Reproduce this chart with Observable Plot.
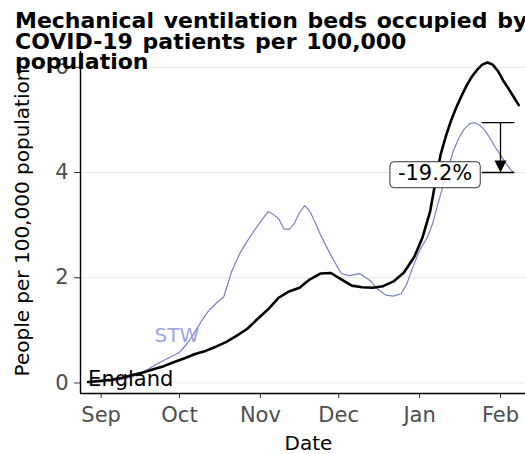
<!DOCTYPE html>
<html><head><meta charset="utf-8">
<script src="https://cdn.jsdelivr.net/npm/d3@7"></script>
<script src="https://cdn.jsdelivr.net/npm/@observablehq/plot@0.6"></script>
<style>
body{margin:0;background:#fff;}
#wrap{position:relative;width:525px;height:454px;overflow:hidden;font-family:"DejaVu Sans",sans-serif;background:#fff;}
#chart{position:absolute;left:0;top:0;width:536px;height:454px;}
#chart svg{max-width:none !important;}
#title{position:absolute;left:15px;top:11px;font-weight:bold;font-size:22px;line-height:20.5px;word-spacing:2px;white-space:nowrap;color:#000;}
#chart g[aria-label$="tick label"]{fill:#4d4d4d;font-size:21px;}
#chart g[aria-label$="axis label"]{fill:#000;font-size:20px;}
</style></head><body>
<div id="wrap"><div id="chart"></div><div id="title">Mechanical ventilation beds occupied by<br>COVID-19 patients per 100,000<br>population</div></div>
<script>
// ---- data ----
const englandDates = ["2020-08-27","2020-09-01","2020-09-05","2020-09-09","2020-09-13","2020-09-17","2020-09-21","2020-09-25","2020-09-29","2020-10-03","2020-10-07","2020-10-11","2020-10-15","2020-10-19","2020-10-23","2020-10-27","2020-10-31","2020-11-04","2020-11-08","2020-11-12","2020-11-16","2020-11-20","2020-11-24","2020-11-28","2020-12-02","2020-12-06","2020-12-10","2020-12-14","2020-12-18","2020-12-22","2020-12-26","2020-12-30","2021-01-02","2021-01-05","2021-01-07","2021-01-09","2021-01-11","2021-01-13","2021-01-15","2021-01-17","2021-01-19","2021-01-21","2021-01-23","2021-01-25","2021-01-27","2021-01-29","2021-01-31","2021-02-02","2021-02-04","2021-02-06","2021-02-08"];
const englandValues = [0.02,0.04,0.06,0.10,0.15,0.20,0.26,0.32,0.40,0.47,0.55,0.61,0.69,0.78,0.90,1.03,1.22,1.40,1.62,1.74,1.81,1.97,2.08,2.09,1.97,1.85,1.82,1.81,1.84,1.93,2.10,2.40,2.75,3.25,3.80,4.33,4.68,4.98,5.23,5.45,5.65,5.82,5.95,6.05,6.09,6.05,5.93,5.75,5.60,5.44,5.28];

const stwDates = ["2020-09-04","2020-09-09","2020-09-13","2020-09-16","2020-09-19","2020-09-23","2020-09-27","2020-10-01","2020-10-04","2020-10-06","2020-10-08","2020-10-10","2020-10-12","2020-10-15","2020-10-18","2020-10-19","2020-10-21","2020-10-24","2020-10-26","2020-10-29","2020-11-01","2020-11-04","2020-11-06","2020-11-08","2020-11-10","2020-11-12","2020-11-14","2020-11-16","2020-11-18","2020-11-20","2020-11-22","2020-11-24","2020-11-26","2020-11-28","2020-11-30","2020-12-02","2020-12-05","2020-12-09","2020-12-13","2020-12-16","2020-12-19","2020-12-22","2020-12-25","2020-12-27","2020-12-29","2021-01-01","2021-01-04","2021-01-06","2021-01-08","2021-01-10","2021-01-12","2021-01-14","2021-01-16","2021-01-18","2021-01-20","2021-01-22","2021-01-24","2021-01-26","2021-01-28","2021-01-30","2021-02-01","2021-02-03","2021-02-05","2021-02-06"];
const stwValues = [0.03,0.07,0.12,0.18,0.26,0.38,0.48,0.58,0.75,0.90,1.06,1.22,1.36,1.51,1.64,1.80,2.12,2.45,2.62,2.85,3.06,3.26,3.20,3.12,2.93,2.92,3.03,3.24,3.37,3.26,3.05,2.82,2.62,2.43,2.25,2.08,2.04,2.08,1.95,1.78,1.67,1.65,1.70,1.87,2.15,2.52,2.77,3.03,3.40,3.75,4.10,4.42,4.65,4.82,4.92,4.95,4.90,4.80,4.65,4.48,4.33,4.18,4.05,4.00];

const monthTicks = ["2020-09-01","2020-10-01","2020-11-01","2020-12-01","2021-01-01","2021-02-01"];
const monthLabels = ["Sep","Oct","Nov","Dec","Jan","Feb"];
const yTicks = [0,2,4,6];
const xDomain = ["2020-08-24T02:00Z","2021-02-14T19:00Z"];
const yDomain = [-0.2, 6.3];

const seriesNames = ["England","STW"];
const stwLabelPos = {date:"2020-09-30", value:0.9};
const peakValue = 4.95, latestValue = 4.00;
const changeLabel = "-19.2%";
const annotationDate = "2021-02-01";
const capStart = "2021-01-25T00:00Z", capEnd = "2021-02-06T12:00Z";

// ---- build tables ----
const P = s => new Date(s.length === 10 ? s + "T00:00Z" : s);
const england = englandDates.map((d,i) => ({date:P(d), value:englandValues[i]}));
const stw = stwDates.map((d,i) => ({date:P(d), value:stwValues[i]}));
const tickDates = monthTicks.map(P);
const xd = xDomain.map(P);

const downTriangle = {draw(ctx, size){ const r = Math.sqrt(size/Math.PI); ctx.moveTo(-r, -2*r); ctx.lineTo(r, -2*r); ctx.lineTo(0, 0); ctx.closePath(); }};

const stwColor = "#7780c9";

const plot = Plot.plot({
  width: 536, height: 454,
  marginLeft: 80, marginRight: 0, marginTop: 51, marginBottom: 61,
  style: {fontFamily: '"DejaVu Sans", sans-serif', fontSize: "20px", color: "#333", background: "white", overflow: "visible", maxWidth: "none"},
  x: {type: "utc", domain: xd, ticks: tickDates, tickFormat: d => monthLabels[tickDates.findIndex(t => +t === +d)], tickSize: 5, tickPadding: 9, label: "Date", labelArrow: "none", labelAnchor: "center", labelOffset: 56},
  y: {domain: yDomain, ticks: yTicks, tickFormat: d3.format("d"), tickSize: 6, tickPadding: 6, label: "People per 100,000 population", labelArrow: "none", labelAnchor: "center", labelOffset: 66},
  marks: [
    Plot.ruleY(yTicks, {stroke: "#ebebeb", strokeWidth: 1}),
    Plot.line(stw, {x: "date", y: "value", stroke: stwColor, strokeWidth: 1.2}),
    Plot.line(england, {x: "date", y: "value", stroke: "#000", strokeWidth: 2.6}),
    Plot.ruleX([xd[0]], {stroke: "#000", strokeWidth: 1.4}),
    Plot.ruleY([yDomain[0]], {stroke: "#000", strokeWidth: 1.4}),
    Plot.ruleY([peakValue, latestValue], {x1: P(capStart), x2: P(capEnd), stroke: "#000", strokeWidth: 1.3}),
    Plot.ruleX([P(annotationDate)], {y1: peakValue, y2: latestValue + 0.2, stroke: "#000", strokeWidth: 1.3}),
    Plot.dot([{date: P(annotationDate), value: latestValue}], {x: "date", y: "value", symbol: downTriangle, r: 6, fill: "#000", stroke: "none"}),
    Plot.text([{date: P(capStart), value: latestValue, label: changeLabel}], {x: "date", y: "value", text: "label", textAnchor: "end", dx: -10, dy: 1, fontSize: 21, fill: "#000"}),
    Plot.text([england[0]], {x: "date", y: "value", text: () => seriesNames[0], textAnchor: "start", dy: -3, fontSize: 21, fill: "#000"}),
    Plot.text([{date: P(stwLabelPos.date), value: stwLabelPos.value}], {x: "date", y: "value", text: () => seriesNames[1], textAnchor: "middle", fontSize: 20, fill: "#8c92dc", fillOpacity: 0.85})
  ]
});
document.getElementById("chart").appendChild(plot);

// strip any label arrows
plot.querySelectorAll("text").forEach(el => {
  if (/[↑→←↓]/.test(el.textContent)) el.textContent = el.textContent.replace(/\s*[↑→←↓]\s*/g, "");
});

// rounded box behind the change label
const t = Array.from(plot.querySelectorAll("text")).find(el => el.textContent === changeLabel);
if (t) {
  const bb = t.getBBox();
  const pad = 8;
  const rect = document.createElementNS("http://www.w3.org/2000/svg", "rect");
  rect.setAttribute("x", bb.x - pad);
  rect.setAttribute("y", bb.y + 0.5);
  rect.setAttribute("width", bb.width + 2*pad);
  rect.setAttribute("height", bb.height + 2);
  rect.setAttribute("rx", 4);
  rect.setAttribute("fill", "#fff");
  rect.setAttribute("stroke", "#333");
  rect.setAttribute("stroke-width", 1);
  if (t.getAttribute("transform")) rect.setAttribute("transform", t.getAttribute("transform"));
  t.parentNode.insertBefore(rect, t);
}
</script>
</body></html>
